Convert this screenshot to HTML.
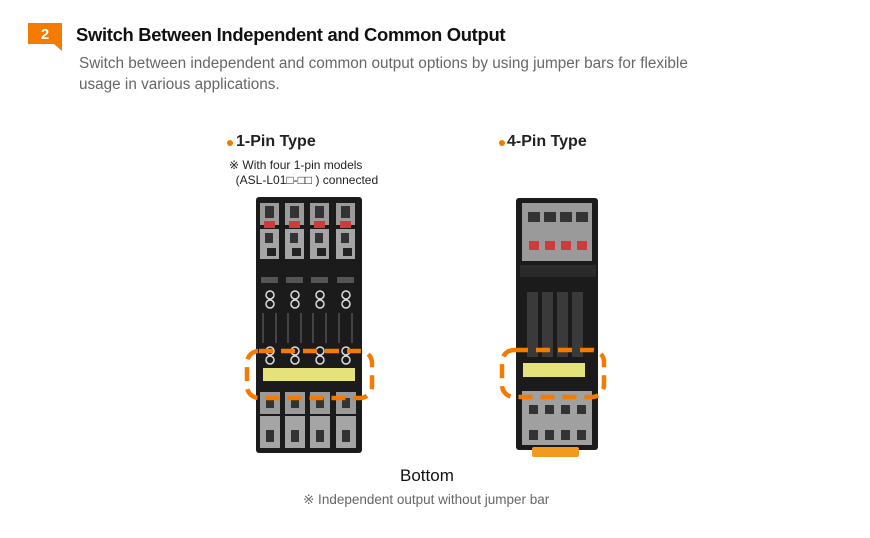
<!DOCTYPE html>
<html><head><style>
body{margin:0;background:#fff;}
#w{position:relative;width:870px;height:538px;overflow:hidden;font-family:"Liberation Sans",sans-serif;}
.t{position:absolute;white-space:nowrap;}
</style></head><body><div id="w">
<svg width="870" height="538" style="position:absolute;left:0;top:0">
<rect x="28" y="23" width="34" height="21" fill="#f47a00"/>
<polygon points="54,44 62,44 62,51" fill="#f47a00"/>
<text x="45" y="39" font-family="Liberation Sans" font-weight="bold" font-size="15" fill="#fff" text-anchor="middle">2</text>
<circle cx="230" cy="143" r="3" fill="#f47a00"/>
<circle cx="502" cy="143" r="3" fill="#f47a00"/>
<!-- left module -->
<rect x="256" y="197" width="106" height="256" rx="3" fill="#1b1b1b"/>
<g id="col">
<rect x="260" y="203" width="19" height="22" fill="#9a9a9a"/>
<rect x="265" y="206" width="9" height="12" fill="#333"/>
<rect x="264" y="221" width="11" height="7" fill="#d23a3a"/>
<rect x="260" y="229" width="19" height="30" fill="#a5a5a5"/>
<rect x="265" y="233" width="8" height="10" fill="#333"/>
<rect x="267" y="248" width="9" height="8" fill="#222"/>
<rect x="261" y="277" width="17" height="6" fill="#555"/>
<circle cx="270" cy="295" r="4" fill="none" stroke="#ddd" stroke-width="1.5"/>
<circle cx="270" cy="304" r="4" fill="none" stroke="#ddd" stroke-width="1.5"/>
<rect x="262" y="313" width="2" height="30" fill="#444"/>
<rect x="275" y="313" width="2" height="30" fill="#444"/>
<circle cx="270" cy="351" r="4" fill="none" stroke="#ddd" stroke-width="1.5"/>
<circle cx="270" cy="360" r="4" fill="none" stroke="#ddd" stroke-width="1.5"/>
<rect x="260" y="392" width="20" height="22" fill="#9a9a9a"/>
<rect x="266" y="398" width="8" height="10" fill="#333"/>
<rect x="260" y="416" width="20" height="32" fill="#a5a5a5"/>
<rect x="266" y="430" width="8" height="12" fill="#333"/>
</g>
<use href="#col" x="25"/><use href="#col" x="50"/><use href="#col" x="76"/>
<rect x="263" y="368" width="92" height="13" fill="#e6e27a"/>
<rect x="247" y="351" width="125" height="47" rx="12" fill="none" stroke="#f47a00" stroke-width="4.5" stroke-dasharray="14,8"/>
<!-- right module -->
<rect x="516" y="198" width="82" height="252" rx="3" fill="#1b1b1b"/>
<rect x="532" y="447" width="47" height="10" rx="2" fill="#f29a20"/>
<rect x="522" y="203" width="70" height="58" fill="#9a9a9a"/>
<g fill="#333"><rect x="528" y="212" width="12" height="10"/><rect x="544" y="212" width="12" height="10"/><rect x="560" y="212" width="12" height="10"/><rect x="576" y="212" width="12" height="10"/></g>
<g fill="#d23a3a"><rect x="529" y="241" width="10" height="9"/><rect x="545" y="241" width="10" height="9"/><rect x="561" y="241" width="10" height="9"/><rect x="577" y="241" width="10" height="9"/></g>
<rect x="520" y="265" width="76" height="12" fill="#2a2a2a"/>
<g fill="#3a3a3a"><rect x="527" y="292" width="11" height="65"/><rect x="542" y="292" width="11" height="65"/><rect x="557" y="292" width="11" height="65"/><rect x="572" y="292" width="11" height="65"/></g>
<rect x="523" y="363" width="62" height="14" fill="#e6e27a"/>
<rect x="522" y="391" width="70" height="54" fill="#a0a0a0"/>
<g fill="#333"><rect x="529" y="405" width="9" height="9"/><rect x="545" y="405" width="9" height="9"/><rect x="561" y="405" width="9" height="9"/><rect x="577" y="405" width="9" height="9"/><rect x="529" y="430" width="9" height="10"/><rect x="545" y="430" width="9" height="10"/><rect x="561" y="430" width="9" height="10"/><rect x="577" y="430" width="9" height="10"/></g>
<rect x="502" y="350" width="102" height="47" rx="12" fill="none" stroke="#f47a00" stroke-width="4.5" stroke-dasharray="14,8"/>
</svg>
<div class="t" style="left:76px;top:24px;font-size:18.4px;font-weight:bold;color:#111;letter-spacing:-0.3px">Switch Between Independent and Common Output</div>
<div class="t" style="left:79px;top:53px;font-size:15.3px;color:#666;line-height:21px">Switch between independent and common output options by using jumper bars for flexible<br>usage in various applications.</div>
<div class="t" style="left:236px;top:133px;font-size:16px;font-weight:bold;color:#222">1-Pin Type</div>
<div class="t" style="left:507px;top:133px;font-size:16px;font-weight:bold;color:#222">4-Pin Type</div>
<div class="t" style="left:229px;top:158px;font-size:12px;color:#222;line-height:15px">※ With four 1-pin models<br>&nbsp;&nbsp;(ASL-L01□-□□ ) connected</div>
<div class="t" style="left:400px;top:466px;font-size:17px;color:#111">Bottom</div>
<div class="t" style="left:303px;top:492px;font-size:13.5px;color:#666">※ Independent output without jumper bar</div>
</div></body></html>
